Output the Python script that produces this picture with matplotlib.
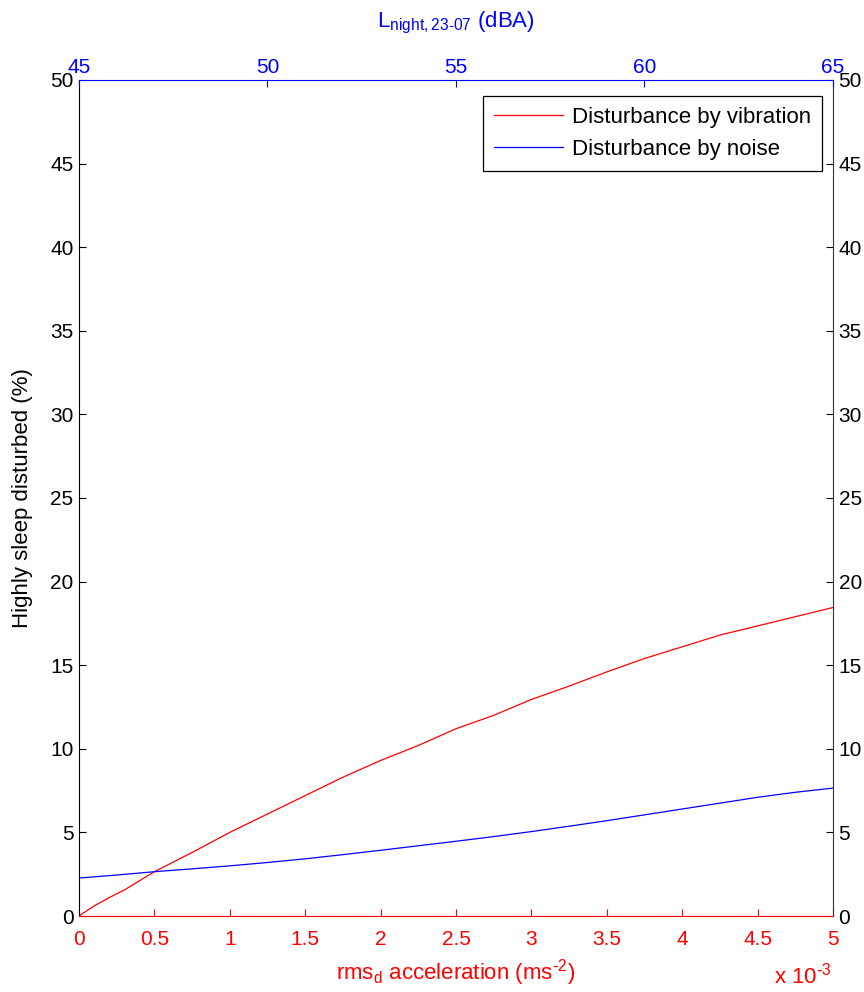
import matplotlib
matplotlib.use("Agg")
import matplotlib.pyplot as plt

plt.rcParams["font.family"] = ["Liberation Sans", "DejaVu Sans"]
plt.rcParams["mathtext.default"] = "regular"

# vibration: rms_d acceleration (x 10^-3 m/s^2) -> % highly sleep disturbed
accel = [0, 0.1, 0.2, 0.3, 0.4, 0.5, 0.75, 1.0, 1.25, 1.5, 1.75, 2.0, 2.25,
         2.5, 2.75, 3.0, 3.25, 3.5, 3.75, 4.0, 4.25, 4.5, 4.75, 5.0]
hsd_vib = [0, 0.6, 1.1, 1.55, 2.1, 2.65, 3.8, 5.0, 6.1, 7.2, 8.3, 9.3, 10.2,
           11.2, 12.0, 12.95, 13.75, 14.6, 15.4, 16.1, 16.8, 17.35, 17.9, 18.45]

# noise: Lnight (dBA) -> % highly sleep disturbed
lnight = list(range(45, 66))
hsd_noise = [2.27, 2.45, 2.65, 2.82, 3.0, 3.2, 3.42, 3.67, 3.93, 4.2, 4.47,
             4.75, 5.05, 5.37, 5.7, 6.05, 6.4, 6.75, 7.1, 7.4, 7.65]

accel_ticks = [0, 0.5, 1, 1.5, 2, 2.5, 3, 3.5, 4, 4.5, 5]
accel_labels = ["0", "0.5", "1", "1.5", "2", "2.5", "3", "3.5", "4", "4.5", "5"]
lnight_ticks = [45, 50, 55, 60, 65]
y_ticks = list(range(0, 51, 5))

RED = "#ff0000"
BLUE = "#0000ff"
FS_TICK = 15
FS = 16

fig = plt.figure(figsize=(8.64, 9.92), dpi=100)
ax = fig.add_axes([0.0914, 0.0766, 0.8727, 0.8428])

l1, = ax.plot(accel, hsd_vib, color=RED, lw=0.9, label="Disturbance by vibration")
ax.set_xlim(0, 5)
ax.set_ylim(0, 50)
ax.set_xticks(accel_ticks)
ax.set_xticklabels(accel_labels)
ax.set_yticks(y_ticks)
ax.tick_params(axis="x", colors=RED, direction="in", length=5, labelsize=FS_TICK, pad=10)
ax.tick_params(axis="y", colors="black", direction="in", length=5, labelsize=FS_TICK,
               right=True, labelright=True, pad=4)
ax.spines["bottom"].set_color(RED)
ax.spines["top"].set_visible(False)
ax.spines["left"].set_color("black")
ax.spines["right"].set_color("#333333")
ax.set_xlabel("rms$_d$ acceleration (ms$^{\\text{-}2}$)", color=RED, fontsize=FS, labelpad=6)
ax.set_ylabel("Highly sleep disturbed (%)", color="black", fontsize=FS, labelpad=12)
fig.text(0.9625, 0.004, "x 10$^{\\text{-}3}$", color=RED, fontsize=FS, ha="right", va="bottom")

ax2 = ax.twiny()
l2, = ax2.plot(lnight, hsd_noise, color=BLUE, lw=0.9, label="Disturbance by noise")
ax2.set_xlim(45, 65)
ax2.set_xticks(lnight_ticks)
ax2.tick_params(axis="x", colors=BLUE, direction="in", length=5, labelsize=FS_TICK, pad=2)
ax2.spines["top"].set_color(BLUE)
ax2.spines["bottom"].set_visible(False)
ax2.spines["left"].set_visible(False)
ax2.spines["right"].set_visible(False)
ax2.set_xlabel("L$_{night,23\u201107}$ (dBA)", color=BLUE, fontsize=FS, labelpad=22)

leg = ax2.legend(handles=[l1, l2], loc="upper right", bbox_to_anchor=(0.9854, 0.981),
                 fontsize=FS, frameon=True, fancybox=False, framealpha=1,
                 edgecolor="black", borderaxespad=0, handlelength=3.1,
                 handletextpad=0.4, borderpad=0.5, labelspacing=0.5)
leg.get_frame().set_linewidth(0.9)

fig.savefig("out.png", dpi=100)
